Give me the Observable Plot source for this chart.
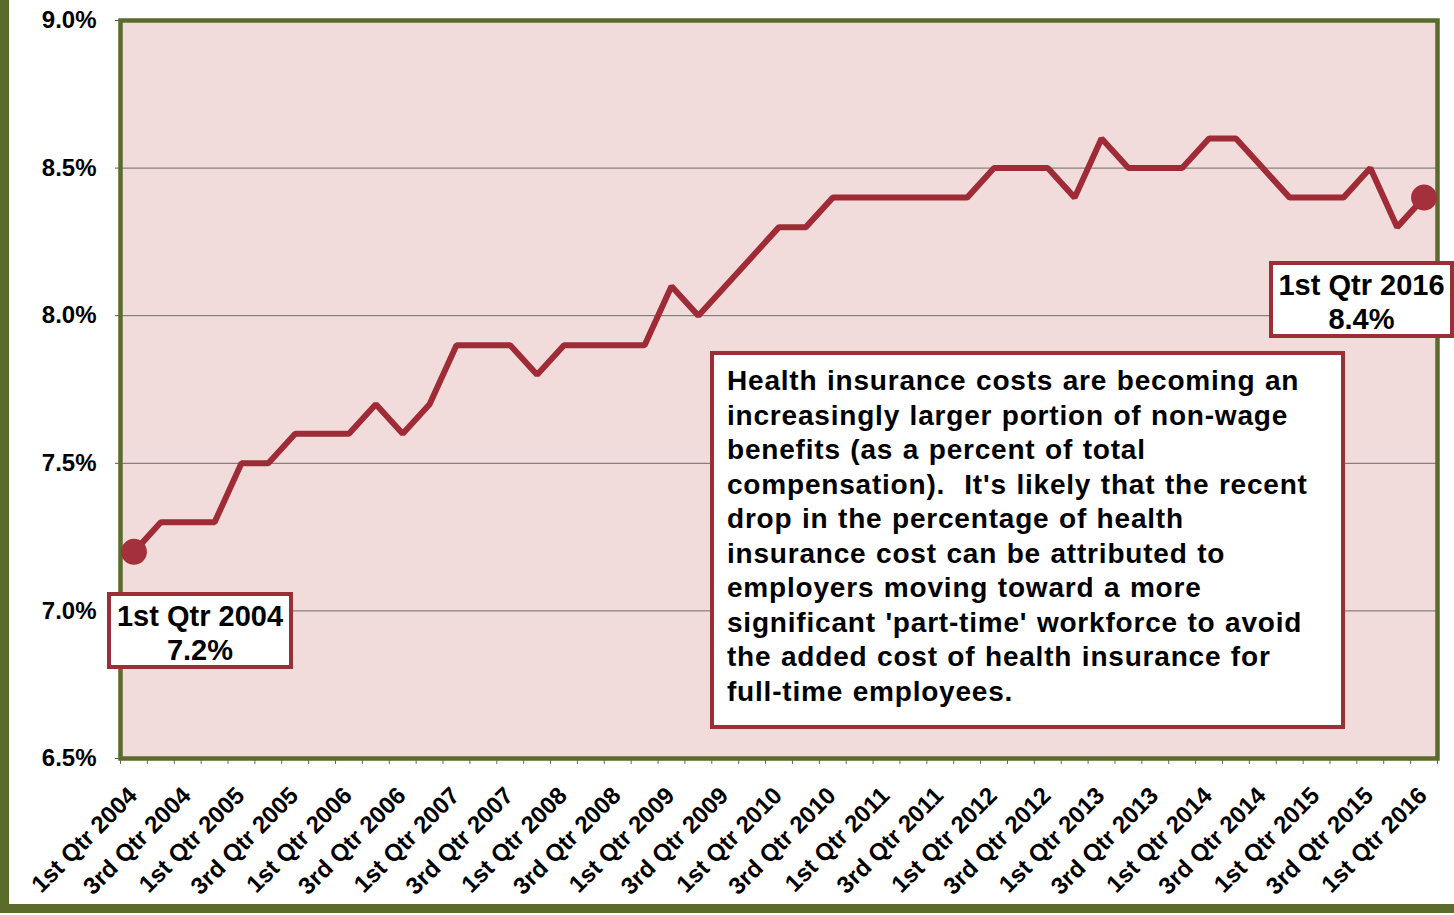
<!DOCTYPE html>
<html>
<head>
<meta charset="utf-8">
<script src="https://cdn.jsdelivr.net/npm/d3@7"></script>
<script src="https://cdn.jsdelivr.net/npm/@observablehq/plot@0.6"></script>
<style>
  html, body { margin: 0; padding: 0; background: #ffffff; }
  #wrap { position: relative; width: 1454px; height: 915px; overflow: hidden; font-family: "Liberation Sans", Arial, sans-serif; }
  .edge { position: absolute; background: #5b6b2c; }
  .box { position: absolute; background: #ffffff; border: 4px solid #9b2f36; box-sizing: border-box; color: #000; font-weight: bold; }
  .lbl { text-align: center; font-size: 29px; line-height: 34px; padding-top: 3px; }
  .note { font-size: 28px; line-height: 34.5px; padding: 9px 0 0 13px; letter-spacing: 0.8px; word-spacing: 1px; }
</style>
</head>
<body>
<div id="wrap"></div>
<script>
// ---- data ----
const quarters = [
  "1st Qtr 2004","2nd Qtr 2004","3rd Qtr 2004","4th Qtr 2004",
  "1st Qtr 2005","2nd Qtr 2005","3rd Qtr 2005","4th Qtr 2005",
  "1st Qtr 2006","2nd Qtr 2006","3rd Qtr 2006","4th Qtr 2006",
  "1st Qtr 2007","2nd Qtr 2007","3rd Qtr 2007","4th Qtr 2007",
  "1st Qtr 2008","2nd Qtr 2008","3rd Qtr 2008","4th Qtr 2008",
  "1st Qtr 2009","2nd Qtr 2009","3rd Qtr 2009","4th Qtr 2009",
  "1st Qtr 2010","2nd Qtr 2010","3rd Qtr 2010","4th Qtr 2010",
  "1st Qtr 2011","2nd Qtr 2011","3rd Qtr 2011","4th Qtr 2011",
  "1st Qtr 2012","2nd Qtr 2012","3rd Qtr 2012","4th Qtr 2012",
  "1st Qtr 2013","2nd Qtr 2013","3rd Qtr 2013","4th Qtr 2013",
  "1st Qtr 2014","2nd Qtr 2014","3rd Qtr 2014","4th Qtr 2014",
  "1st Qtr 2015","2nd Qtr 2015","3rd Qtr 2015","4th Qtr 2015",
  "1st Qtr 2016"
];
const healthPct = [
  7.2, 7.3, 7.3, 7.3,
  7.5, 7.5, 7.6, 7.6,
  7.6, 7.7, 7.6, 7.7,
  7.9, 7.9, 7.9, 7.8,
  7.9, 7.9, 7.9, 7.9,
  8.1, 8.0, 8.1, 8.2,
  8.3, 8.3, 8.4, 8.4,
  8.4, 8.4, 8.4, 8.4,
  8.5, 8.5, 8.5, 8.4,
  8.6, 8.5, 8.5, 8.5,
  8.6, 8.6, 8.5, 8.4,
  8.4, 8.4, 8.5, 8.3,
  8.4
];
const yTicks = [6.5, 7.0, 7.5, 8.0, 8.5, 9.0];
const gridLines = [7.0, 7.5, 8.0, 8.5];
const xLabelEvery = 2;

const data = quarters.map((q, i) => ({i, q, v: healthPct[i]}));
const ends = [data[0], data[data.length - 1]];
const labelIdx = data.filter(d => d.i % xLabelEvery === 0).map(d => d.i);
const boundaries = d3.range(-0.5, quarters.length, 1);

const lineColor = "#9e2b35";
const frameColor = "#5b6b2c";
const font = "'Liberation Sans', Arial, sans-serif";

const chart = Plot.plot({
  width: 1454,
  height: 915,
  marginLeft: 120,
  marginRight: 17,
  marginTop: 20,
  marginBottom: 157,
  style: {fontFamily: font, fontWeight: "bold", color: "#000", background: "transparent", overflow: "visible"},
  x: {domain: [-0.5, quarters.length - 0.5], axis: null, label: null},
  y: {domain: [6.5, 9.0], axis: null, label: null},
  marks: [
    Plot.frame({fill: "#f2dcdb", stroke: "none"}),
    Plot.ruleY(gridLines, {stroke: "#6a6a6a", strokeWidth: 1}),
    Plot.axisY({ticks: yTicks, tickFormat: d => d.toFixed(1) + "%", tickSize: 5, tickPadding: 19,
                fontSize: 24, stroke: "#555", fill: "#000", label: null}),
    Plot.axisX({ticks: boundaries, tickFormat: () => "", tickSize: 6, stroke: "#666", label: null}),
    Plot.axisX({ticks: labelIdx, tickFormat: i => quarters[i], tickSize: 0, tickPadding: 33,
                tickRotate: -45, fontSize: 24, fill: "#000", dx: -1, label: null}),
    Plot.frame({stroke: frameColor, strokeWidth: 4.5}),
    Plot.line(data, {x: "i", y: "v", stroke: lineColor, strokeWidth: 6, strokeLinejoin: "miter"}),
    Plot.dot(ends, {x: "i", y: "v", r: 13, fill: "#a3303a", stroke: "none"})
  ]
});

const wrap = document.getElementById("wrap");
wrap.appendChild(chart);

const leftEdge = document.createElement("div");
leftEdge.className = "edge";
Object.assign(leftEdge.style, {left: "0px", top: "0px", width: "9px", height: "913px"});
wrap.appendChild(leftEdge);
const bottomEdge = document.createElement("div");
bottomEdge.className = "edge";
Object.assign(bottomEdge.style, {left: "0px", top: "904px", width: "1454px", height: "9px"});
wrap.appendChild(bottomEdge);

function addBox(cls, left, top, width, height, html) {
  const b = document.createElement("div");
  b.className = "box " + cls;
  Object.assign(b.style, {left: left + "px", top: top + "px", width: width + "px", height: height + "px"});
  b.innerHTML = html;
  wrap.appendChild(b);
}
addBox("lbl", 107, 592, 186, 77, "1st Qtr 2004<br>7.2%");
addBox("lbl", 1269, 261, 185, 77, "1st Qtr 2016<br>8.4%");
addBox("note", 710, 351, 635, 378,
  "Health insurance costs are becoming an<br>" +
  "increasingly larger portion of non-wage<br>" +
  "benefits (as a percent of total<br>" +
  "compensation).&nbsp; It's likely that the recent<br>" +
  "drop in the percentage of health<br>" +
  "insurance cost can be attributed to<br>" +
  "employers moving toward a more<br>" +
  "significant 'part-time' workforce to avoid<br>" +
  "the added cost of health insurance for<br>" +
  "full-time employees.");
</script>
</body>
</html>
